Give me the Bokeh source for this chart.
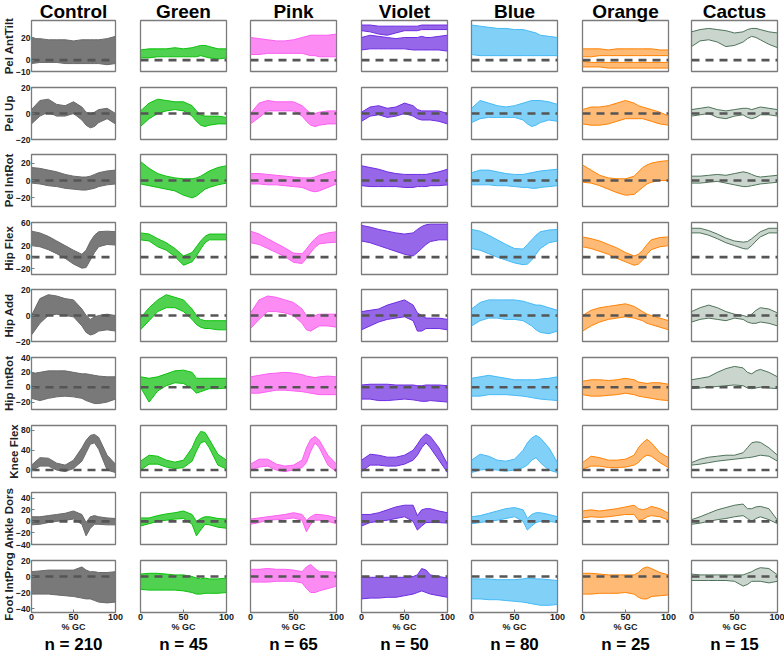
from bokeh.plotting import figure
from bokeh.layouts import gridplot
from bokeh.models import LinearAxis, Range1d, FixedTicker
from bokeh.embed import file_html
from bokeh.resources import INLINE

# ---------------- data ----------------
X = [0, 10, 20, 30, 40, 50, 60, 65, 70, 75, 80, 90, 100]
GROUPS = ["Control", "Green", "Pink", "Violet", "Blue", "Orange", "Cactus"]
COLORS = ["#6a6a6a", "#0cc00c", "#fb5ff0", "#6f2de0", "#45b9f5", "#ff8205", "#4f735a"]
FILL_ALPHA = [0.9, 0.72, 0.72, 0.72, 0.68, 0.55, 0.3]
N_SUBJECTS = [210, 45, 65, 50, 80, 25, 15]
ROW_LABELS = ["Pel AntTilt", "Pel Up", "Pel IntRot", "Hip Flex", "Hip Add",
              "Hip IntRot", "Knee Flex", "Ankle Dors", "Foot IntProg"]
Y_RANGES = [(-10, 35), (-20, 20), (-30, 30), (-30, 60), (-20, 20),
            (-30, 40), (-15, 90), (-40, 50), (-45, 20)]
Y_TICKS = [[-10, 0, 20], [-20, 0, 20], [-20, 0, 20], [-20, 0, 20, 60], [-20, 0, 20],
           [-20, 0, 20, 40], [0, 40, 80], [-40, -20, 0, 20, 40], [-40, -20, 0, 20]]
X_TICKS = [0, 50, 100]
X_LABEL = "% GC"

# each group: list of bands (lower edge, upper edge) at X
PEL_ANTTILT = {
    "Control": [([-3, -2, -2, -2, -3, -3, -3, -3, -3, -3, -3, -4, -3],
                 [19, 19, 18, 18, 18, 17, 18, 18, 18, 18, 18, 19, 21])],
    "Green": [([2, 2, 3, 3, 3, 3, 3, 3, 4, 3, 2, 1, 2],
               [9, 10, 10, 10, 11, 10, 11, 12, 13, 13, 12, 10, 10])],
    "Pink": [([5, 5, 6, 6, 6, 6, 6, 5, 4, 4, 3, 3, 3],
              [20, 19, 18, 17, 17, 18, 20, 21, 22, 22, 22, 22, 23])],
    "Violet": [([26, 25, 23, 22, 24, 26, 26, 26, 27, 27, 27, 27, 27],
                [31, 31, 30, 30, 30, 30, 30, 30, 31, 31, 31, 31, 31]),
               ([9, 10, 10, 10, 10, 10, 9, 9, 9, 9, 9, 9, 8],
                [20, 22, 21, 20, 19, 20, 20, 20, 21, 20, 20, 21, 22])],
    "Blue": [([5, 4, 4, 4, 4, 4, 4, 4, 4, 4, 4, 4, 4],
              [31, 30, 29, 28, 28, 27, 27, 26, 25, 24, 22, 21, 20])],
    "Orange": [([3, 3, 4, 4, 4, 4, 4, 4, 4, 4, 4, 4, 4],
                [10, 10, 10, 9, 10, 10, 10, 10, 10, 10, 10, 9, 9]),
               ([-6, -6, -6, -7, -7, -7, -7, -7, -7, -7, -7, -7, -7],
                [-1, -2, -2, -2, -2, -2, -2, -2, -2, -2, -2, -2, -2])],
    "Cactus": [([12, 17, 18, 16, 12, 13, 16, 19, 21, 20, 18, 14, 11],
                [25, 27, 28, 27, 26, 24, 25, 27, 28, 28, 27, 25, 24])],
}
PEL_UP = {
    "Control": [([-8, -2, 1, -2, -2, 0, -5, -9, -11, -10, -7, -4, -8],
                 [3, 10, 11, 7, 6, 9, 5, 1, 0, 1, 3, 4, 0])],
    "Green": [([-10, -4, 0, 2, 3, 2, -2, -6, -9, -10, -9, -8, -8],
               [2, 8, 11, 10, 9, 9, 6, 2, -1, -2, -2, -2, -3])],
    "Pink": [([-8, -3, 2, 2, 2, 2, -2, -6, -9, -10, -9, -8, -8],
              [0, 8, 10, 9, 9, 9, 6, 3, 0, 0, 1, 2, 2])],
    "Violet": [([-6, -2, -1, -3, -2, 0, -2, -4, -5, -5, -5, -6, -8],
                [1, 5, 6, 4, 5, 8, 6, 3, 2, 2, 2, 2, 0])],
    "Blue": [([-7, -4, -3, -3, -3, -3, -5, -8, -10, -9, -7, -5, -6],
              [4, 10, 8, 6, 5, 6, 8, 9, 10, 10, 10, 9, 7])],
    "Orange": [([-8, -9, -9, -8, -6, -4, -4, -4, -4, -5, -6, -8, -9],
                [3, 5, 5, 6, 8, 10, 8, 6, 5, 4, 3, 1, -2])],
    "Cactus": [([-2, -1, 0, -3, -4, -2, -1, -3, -4, -3, -1, -1, -2],
                [3, 4, 5, 3, 2, 3, 4, 4, 3, 4, 5, 4, 3])],
}
PEL_INTROT = {
    "Control": [([-3, -4, -6, -7, -9, -10, -11, -11, -10, -9, -7, -5, -4],
                 [15, 14, 12, 10, 7, 5, 4, 4, 5, 7, 9, 11, 12])],
    "Green": [([-4, -6, -8, -10, -12, -17, -20, -18, -14, -10, -8, -5, -3],
               [22, 14, 8, 5, 3, 2, 2, 3, 5, 8, 11, 15, 17])],
    "Pink": [([-4, -4, -5, -5, -6, -7, -8, -10, -12, -13, -12, -8, -4],
              [8, 8, 7, 6, 5, 4, 3, 3, 3, 4, 6, 9, 11])],
    "Violet": [([-6, -7, -7, -7, -7, -8, -8, -7, -7, -7, -6, -6, -5],
                [17, 15, 13, 10, 8, 7, 7, 7, 7, 7, 8, 10, 13])],
    "Blue": [([-5, -5, -5, -6, -6, -7, -8, -8, -9, -9, -8, -7, -6],
              [9, 12, 12, 10, 8, 7, 7, 8, 9, 10, 11, 12, 13])],
    "Orange": [([-2, -3, -6, -10, -14, -17, -16, -12, -8, -4, -2, 0, 0],
                [18, 12, 6, 3, 2, 2, 5, 10, 15, 18, 20, 22, 23])],
    "Cactus": [([-3, -3, -2, -1, -3, -5, -7, -7, -6, -5, -4, -3, -2],
                [5, 5, 6, 7, 6, 8, 10, 9, 7, 5, 4, 5, 6])],
}
HIP_FLEX = {
    "Control": [([20, 18, 13, 6, -2, -12, -19, -18, -5, 8, 18, 22, 21],
                 [45, 42, 36, 28, 20, 12, 5, 12, 27, 38, 44, 45, 44])],
    "Green": [([30, 28, 18, 12, 1, -14, -8, 2, 14, 25, 30, 30, 30],
               [42, 40, 32, 25, 15, 2, 8, 18, 28, 36, 40, 40, 40])],
    "Pink": [([25, 22, 15, 8, 1, -9, -11, -2, 8, 17, 23, 25, 26],
              [45, 40, 32, 24, 16, 7, 6, 14, 24, 32, 38, 42, 44])],
    "Violet": [([28, 25, 20, 15, 10, 5, 2, 8, 15, 22, 27, 30, 30],
                [55, 52, 48, 45, 42, 40, 42, 48, 53, 56, 57, 57, 57])],
    "Blue": [([15, 12, 6, 0, -5, -10, -13, -12, -5, 5, 15, 25, 28],
              [48, 45, 38, 30, 22, 15, 14, 22, 30, 38, 44, 47, 48])],
    "Orange": [([18, 15, 10, 5, -2, -8, -14, -12, -5, 5, 13, 18, 20],
                [35, 32, 28, 22, 16, 8, 2, 5, 12, 22, 30, 34, 35])],
    "Cactus": [([42, 42, 38, 32, 25, 20, 15, 14, 20, 28, 35, 42, 42],
                [50, 50, 46, 40, 33, 28, 26, 27, 32, 38, 44, 50, 50])],
}
HIP_ADD = {
    "Control": [([-15, -6, 0, 1, 0, -1, -8, -13, -15, -14, -12, -11, -12],
                 [0, 13, 16, 15, 13, 12, 5, 0, -3, -1, 0, 1, 0])],
    "Green": [([-11, -4, 3, 6, 6, 3, -3, -7, -9, -10, -10, -11, -11],
               [-2, 6, 12, 16, 14, 12, 5, 0, -3, -4, -4, -4, -4])],
    "Pink": [([-10, -3, 3, 3, 2, 0, -6, -11, -12, -10, -8, -8, -9],
              [2, 12, 15, 14, 12, 10, 5, 0, -1, 0, 1, 1, 1])],
    "Violet": [([-11, -8, -5, -3, -2, -1, -4, -12, -12, -10, -10, -10, -11],
                [3, 4, 5, 8, 10, 12, 8, 2, 0, -2, -2, -2, -3])],
    "Blue": [([-8, -4, -2, -2, -3, -3, -4, -6, -8, -11, -13, -14, -12],
              [5, 10, 12, 12, 12, 12, 11, 10, 9, 8, 8, 6, 4])],
    "Orange": [([-12, -8, -5, -3, -2, -1, -2, -3, -4, -6, -7, -9, -11],
                [0, 4, 6, 7, 8, 9, 7, 5, 3, 1, 0, -2, -4])],
    "Cactus": [([-5, -3, -2, -3, -4, -2, -3, -5, -6, -6, -5, -6, -8],
                [3, 6, 8, 6, 3, 1, 0, -1, 1, 4, 6, 5, 2])],
}
HIP_INTROT = {
    "Control": [([-15, -18, -15, -13, -12, -13, -15, -18, -20, -22, -22, -20, -16],
                 [18, 20, 22, 22, 22, 20, 18, 18, 17, 16, 15, 14, 14])],
    "Green": [([0, -20, -5, 2, 6, 5, -2, -8, -6, -4, -2, -2, -1],
               [14, 12, 14, 18, 22, 23, 20, 12, 12, 12, 12, 12, 12])],
    "Pink": [([-8, -8, -6, -4, -4, -5, -6, -7, -8, -9, -10, -10, -10],
              [14, 16, 18, 19, 20, 19, 17, 15, 14, 13, 14, 15, 14])],
    "Violet": [([-16, -16, -18, -18, -17, -16, -17, -18, -19, -19, -18, -19, -20],
                [3, 4, 4, 4, 3, 3, 3, 2, 2, 3, 3, 3, 2])],
    "Blue": [([-12, -12, -10, -10, -10, -11, -12, -13, -14, -15, -16, -17, -18],
              [12, 14, 16, 14, 12, 10, 10, 10, 10, 10, 11, 12, 14])],
    "Orange": [([-10, -12, -12, -11, -10, -8, -10, -12, -13, -14, -15, -17, -18],
                [8, 10, 10, 9, 10, 12, 10, 7, 6, 5, 6, 6, 4])],
    "Cactus": [([-2, -1, 0, 1, 2, 3, 2, -1, -2, -1, 0, -1, -2],
                [10, 12, 14, 20, 25, 28, 26, 20, 18, 22, 24, 20, 14])],
}
KNEE_FLEX = {
    "Control": [([-2, 8, 8, 0, -3, 3, 18, 35, 52, 55, 42, 0, -5],
                 [10, 25, 24, 14, 10, 20, 45, 60, 70, 72, 66, 30, 12])],
    "Green": [([0, 12, 12, 6, 3, 5, 18, 38, 55, 58, 45, 10, 2],
               [18, 30, 28, 20, 16, 20, 45, 65, 78, 76, 62, 32, 20])],
    "Pink": [([0, 6, 8, 0, -3, 0, 5, 15, 38, 55, 45, 10, -4],
              [12, 22, 22, 12, 8, 10, 20, 45, 62, 68, 60, 30, 12])],
    "Violet": [([-3, 10, 10, 8, 8, 12, 20, 30, 45, 55, 45, 20, -5],
                [20, 32, 30, 26, 26, 30, 40, 52, 65, 73, 68, 45, 12])],
    "Blue": [([-5, 0, 2, 0, -2, 0, 5, 10, 20, 25, 15, 0, -5],
              [20, 32, 28, 20, 18, 22, 40, 55, 65, 70, 65, 45, 15])],
    "Orange": [([2, 8, 8, 5, 5, 6, 10, 15, 25, 30, 28, 15, 5],
                [15, 28, 25, 20, 20, 22, 30, 45, 55, 62, 55, 35, 25])],
    "Cactus": [([10, 12, 15, 18, 20, 22, 24, 25, 26, 28, 30, 28, 18],
                [15, 22, 26, 28, 30, 30, 35, 45, 55, 57, 56, 45, 30])],
}
ANKLE_DORS = {
    "Control": [([-6, -5, -2, 0, 2, 4, -5, -25, -12, -5, -5, -6, -6],
                 [8, 8, 10, 12, 14, 18, 12, -2, 8, 10, 8, 6, 5])],
    "Green": [([-8, -4, 0, 2, 4, 5, -5, -25, -15, -5, -6, -10, -12],
               [6, 6, 10, 13, 15, 18, 12, 0, 5, 8, 8, 5, 4])],
    "Pink": [([-5, -2, 2, 3, 4, 6, 2, -18, -5, 2, 2, 0, -4],
              [4, 6, 8, 10, 12, 15, 12, 2, 8, 12, 12, 10, 6])],
    "Violet": [([-8, -2, 0, 2, 5, 8, 0, -15, -8, -2, -2, -2, -3],
                [12, 12, 15, 20, 25, 28, 28, 10, 20, 22, 22, 18, 15])],
    "Blue": [([-4, -2, 0, 2, 5, 8, 0, -15, -8, -2, 0, 0, -2],
              [8, 10, 14, 18, 22, 24, 20, 5, 12, 15, 15, 12, 8])],
    "Orange": [([6, 8, 7, 8, 10, 12, 12, 2, 3, 8, 10, 8, 2],
                [18, 20, 18, 20, 22, 25, 28, 22, 20, 22, 26, 22, 14])],
    "Cactus": [([-5, -3, 0, 3, 5, 8, 10, 5, 0, 5, 8, 3, -4],
                [3, 8, 14, 20, 24, 28, 30, 22, 22, 25, 26, 22, 2])],
}
FOOT_INTPROG = {
    "Control": [([-22, -22, -22, -23, -24, -25, -27, -28, -28, -30, -32, -33, -32],
                 [6, 7, 8, 8, 8, 8, 12, 8, 6, 6, 5, 5, 6])],
    "Green": [([-16, -17, -17, -17, -17, -18, -20, -22, -22, -21, -21, -21, -20],
               [3, 4, 4, 3, 2, 2, 0, -2, -3, -2, -3, -3, -2])],
    "Pink": [([-7, -7, -7, -6, -6, -6, -8, -15, -20, -20, -18, -15, -12],
              [9, 9, 10, 9, 9, 8, 6, 12, 15, 10, 6, 6, 5])],
    "Violet": [([-28, -27, -27, -26, -26, -24, -22, -20, -18, -20, -22, -24, -26],
                [-1, -1, -1, -1, -1, -1, 0, 2, 10, 8, 2, 0, -2])],
    "Blue": [([-28, -28, -29, -29, -30, -31, -32, -33, -34, -35, -36, -36, -35],
              [-3, -3, -3, -4, -4, -4, -3, -2, -2, -3, -3, -4, -5])],
    "Orange": [([-22, -22, -21, -21, -21, -20, -22, -26, -28, -28, -25, -24, -23],
                [4, 4, 3, 2, 2, 2, 2, 5, 10, 12, 10, 5, 2])],
    "Cactus": [([-5, -5, -5, -5, -5, -6, -12, -10, -6, -6, -6, -8, -6],
                [3, 2, 2, 2, 2, 2, 2, 4, 6, 9, 11, 10, 2])],
}
ROW_DATA = [PEL_ANTTILT, PEL_UP, PEL_INTROT, HIP_FLEX, HIP_ADD,
            HIP_INTROT, KNEE_FLEX, ANKLE_DORS, FOOT_INTPROG]

# ---------------- layout ----------------
FONT = "Liberation Sans"
FRAME_W, FRAME_H = 86, 52
COL_LEFT = [29, 140, 250, 361, 471, 582, 691]
COL_START = [0, 135, 245, 356, 466, 577, 686, 784]
ROW_TOP = [19, 87, 154, 222, 289, 357, 425, 492, 560]
ROW_START = [0] + [t - 11 for t in ROW_TOP[1:]] + [658]
FRAME_COLOR = "#7b7b7b"
TEXT_COLOR = "#1a1a1a"


def style_axis(ax, size, standoff):
    ax.major_label_text_font = FONT
    ax.major_label_text_font_style = "bold"
    ax.major_label_text_font_size = size
    ax.major_label_text_color = TEXT_COLOR
    ax.major_label_standoff = standoff
    ax.major_tick_in = 3
    ax.major_tick_out = 0
    ax.minor_tick_line_color = None
    ax.axis_line_color = FRAME_COLOR
    ax.major_tick_line_color = FRAME_COLOR
    ax.axis_label_text_font = FONT
    ax.axis_label_text_font_style = "bold"


rows = []
for r in range(9):
    fig_row = []
    ymin, ymax = Y_RANGES[r]
    for c in range(7):
        w = COL_START[c + 1] - COL_START[c]
        h = ROW_START[r + 1] - ROW_START[r]
        bl = COL_LEFT[c] - COL_START[c]
        br = w - bl - FRAME_W
        bt = ROW_TOP[r] - ROW_START[r]
        bb = h - bt - FRAME_H
        p = figure(width=w, height=h, output_backend="svg", toolbar_location=None,
                   x_range=Range1d(0, 100), y_range=Range1d(ymin, ymax),
                   min_border_left=bl, min_border_right=br,
                   min_border_top=bt, min_border_bottom=bb,
                   x_axis_location="below" if r == 8 else None,
                   y_axis_location="left" if c == 0 else None)
        p.grid.visible = False
        p.outline_line_color = FRAME_COLOR
        p.outline_line_width = 1.3
        p.background_fill_color = "white"
        p.border_fill_color = "white"

        color = COLORS[c]
        for lo, hi in ROW_DATA[r][GROUPS[c]]:
            p.varea(x=X, y1=lo, y2=hi, fill_color=color, fill_alpha=FILL_ALPHA[c])
            p.line(X, lo, line_color=color, line_width=1)
            p.line(X, hi, line_color=color, line_width=1)
        p.line([0, 100], [0, 0], line_color="#555555", line_width=2.6, line_dash="8 6")

        if c == 0:
            ax = p.yaxis[0]
            ax.ticker = FixedTicker(ticks=Y_TICKS[r])
            style_axis(ax, "8.5px", 1)
            ax.axis_label = ROW_LABELS[r]
            ax.axis_label_text_font_size = "11.5px"
            ax.axis_label_text_color = "#222222"
            ax.axis_label_standoff = -2
        if r == 8:
            ax = p.xaxis[0]
            ax.ticker = FixedTicker(ticks=X_TICKS)
            style_axis(ax, "9px", 1)
            ax.axis_label = X_LABEL
            ax.axis_label_text_font_size = "9px"
            ax.axis_label_text_color = TEXT_COLOR
            ax.axis_label_standoff = -1
            n_axis = LinearAxis(ticker=FixedTicker(ticks=[]),
                                axis_label="n = %d" % N_SUBJECTS[c],
                                axis_label_text_font=FONT,
                                axis_label_text_font_style="bold",
                                axis_label_text_font_size="17px",
                                axis_label_text_color="black",
                                axis_label_standoff=0,
                                axis_line_color=None, major_tick_line_color=None,
                                minor_tick_line_color=None,
                                major_tick_in=0, major_tick_out=0,
                                minor_tick_in=0, minor_tick_out=0)
            p.add_layout(n_axis, "below")
        if r == 0:
            p.title.text = GROUPS[c]
            p.title.align = "center"
            p.title.text_font = FONT
            p.title.text_font_style = "bold"
            p.title.text_font_size = "19px"
            p.title.text_color = "black"
            p.title.standoff = -3
            p.title.offset = 0
        fig_row.append(p)
    rows.append(fig_row)

grid = gridplot(rows, toolbar_location=None)
open("out.html", "w").write(file_html(grid, INLINE))
